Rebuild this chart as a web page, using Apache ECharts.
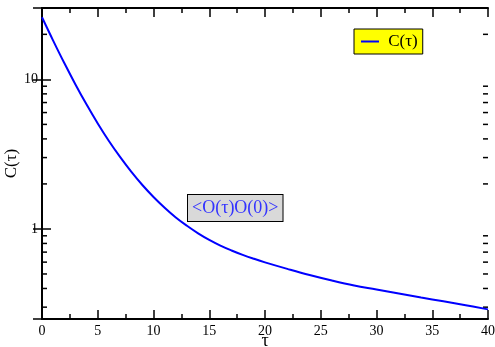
<!DOCTYPE html>
<html>
<head>
<meta charset="utf-8">
<script src="https://cdn.jsdelivr.net/npm/echarts@6/dist/echarts.min.js"></script>
<style>
  html, body { margin: 0; padding: 0; background: #fff; }
  #chart { width: 495px; height: 347px; }
</style>
</head>
<body>
<div id="chart"></div>
<script>
// Autocorrelation C(tau) of the observable, log scale
const tau = [0, 1, 2, 3, 4, 5, 6, 7, 8, 9, 10, 11, 12, 13, 14, 15, 16, 17, 18, 19, 20,
             22, 24, 26, 28, 30, 32, 34, 36, 38, 40];
const corr = [26.0, 18.16, 12.85, 9.25, 6.78, 5.07, 3.87, 3.03, 2.415, 1.968, 1.637, 1.387, 1.194,
              1.050, 0.935, 0.845, 0.774, 0.718, 0.671, 0.632, 0.598,
              0.541, 0.492, 0.452, 0.419, 0.394, 0.370, 0.348, 0.328, 0.309, 0.290];
const xTicks = [0, 5, 10, 15, 20, 25, 30, 35, 40];
const yMajor = [1, 10];
const yMinor = [0.3, 0.4, 0.5, 0.6, 0.7, 0.8, 0.9, 2, 3, 4, 5, 6, 7, 8, 9, 20];

const serif = '"Liberation Serif", "DejaVu Serif", serif';
const chart = echarts.init(document.getElementById('chart'), null, { renderer: 'canvas' });

const axisLine = { show: true, lineStyle: { color: '#000', width: 2 } };
const majorTick = { show: true, inside: true, length: 9, lineStyle: { color: '#000', width: 1.5 } };
const minorTickX = { show: true, splitNumber: 2, length: 5, lineStyle: { color: '#000', width: 1.5 } };

chart.setOption({
  animation: false,
  backgroundColor: '#fff',
  grid: { left: 42, right: 7, top: 8, bottom: 28, containLabel: false, outerBoundsMode: 'none' },
  legend: {
    data: ['C(τ)'],
    left: 354, top: 29,
    backgroundColor: '#ffff00',
    borderColor: '#000', borderWidth: 1,
    padding: [3, 5, 3, 7],
    itemWidth: 18, itemHeight: 2,
    icon: 'rect',
    formatter: ' {name}',
    textStyle: { fontFamily: serif, fontSize: 17, color: '#000', lineHeight: 19 }
  },
  xAxis: [{
    type: 'value', min: 0, max: 40, interval: 5, position: 'bottom',
    axisLine, axisTick: majorTick, minorTick: minorTickX,
    splitLine: { show: false },
    axisLabel: { fontFamily: serif, fontSize: 14, color: '#000', margin: 5,
      formatter: v => xTicks.includes(v) ? String(v) : '' },
    name: 'τ', nameLocation: 'middle', nameGap: 13, nameMoveOverlap: false,
    nameTextStyle: { fontFamily: serif, fontSize: 18, color: '#000' }
  }, {
    type: 'value', min: 0, max: 40, interval: 5, position: 'top',
    axisLine, axisTick: majorTick, minorTick: minorTickX,
    splitLine: { show: false }, axisLabel: { show: false }
  }],
  yAxis: [{
    type: 'log', logBase: 10, min: 0.25, max: 30, position: 'left',
    axisLine, axisTick: majorTick,
    splitLine: { show: false },
    axisLabel: { fontFamily: serif, fontSize: 14, color: '#000', margin: 4,
      showMinLabel: false, showMaxLabel: false,
      formatter: v => yMajor.some(m => Math.abs(m - v) < 1e-9) ? String(Math.round(v)) : '' },
    name: 'C(τ)', nameLocation: 'middle', nameGap: 22, nameRotate: 90, nameMoveOverlap: false,
    nameTextStyle: { fontFamily: serif, fontSize: 17, color: '#000' }
  }, {
    type: 'log', logBase: 10, min: 0.25, max: 30, position: 'right',
    axisLine, axisTick: majorTick,
    splitLine: { show: false }, axisLabel: { show: false }
  }],
  series: [{
    name: 'C(τ)',
    type: 'line',
    data: tau.map((t, i) => [t, corr[i]]),
    showSymbol: false,
    smooth: 0.4,
    lineStyle: { color: '#0000ff', width: 2 },
    itemStyle: { color: '#0000ff' }
  }, {
    // minor log ticks on left and right frame edges
    type: 'custom',
    silent: true,
    data: yMinor.map(v => [0, v]),
    renderItem: (params, api) => {
      const v = api.value(1);
      const l = api.coord([0, v]);
      const r = api.coord([40, v]);
      const style = { stroke: '#000', lineWidth: 1.5 };
      return {
        type: 'group',
        children: [
          { type: 'line', shape: { x1: l[0], y1: l[1], x2: l[0] + 5, y2: l[1] }, style },
          { type: 'line', shape: { x1: r[0], y1: r[1], x2: r[0] - 5, y2: r[1] }, style }
        ]
      };
    },
    clip: false
  }],
  graphic: [{
    type: 'text',
    left: 187, top: 194,
    style: {
      text: '<O(τ)O(0)>',
      font: '18px ' + serif,
      fill: '#3333ff',
      backgroundColor: '#d9d9d9',
      borderColor: '#000',
      borderWidth: 1,
      padding: [4, 4, 4, 4]
    },
    z: 10
  }]
});
</script>
</body>
</html>
